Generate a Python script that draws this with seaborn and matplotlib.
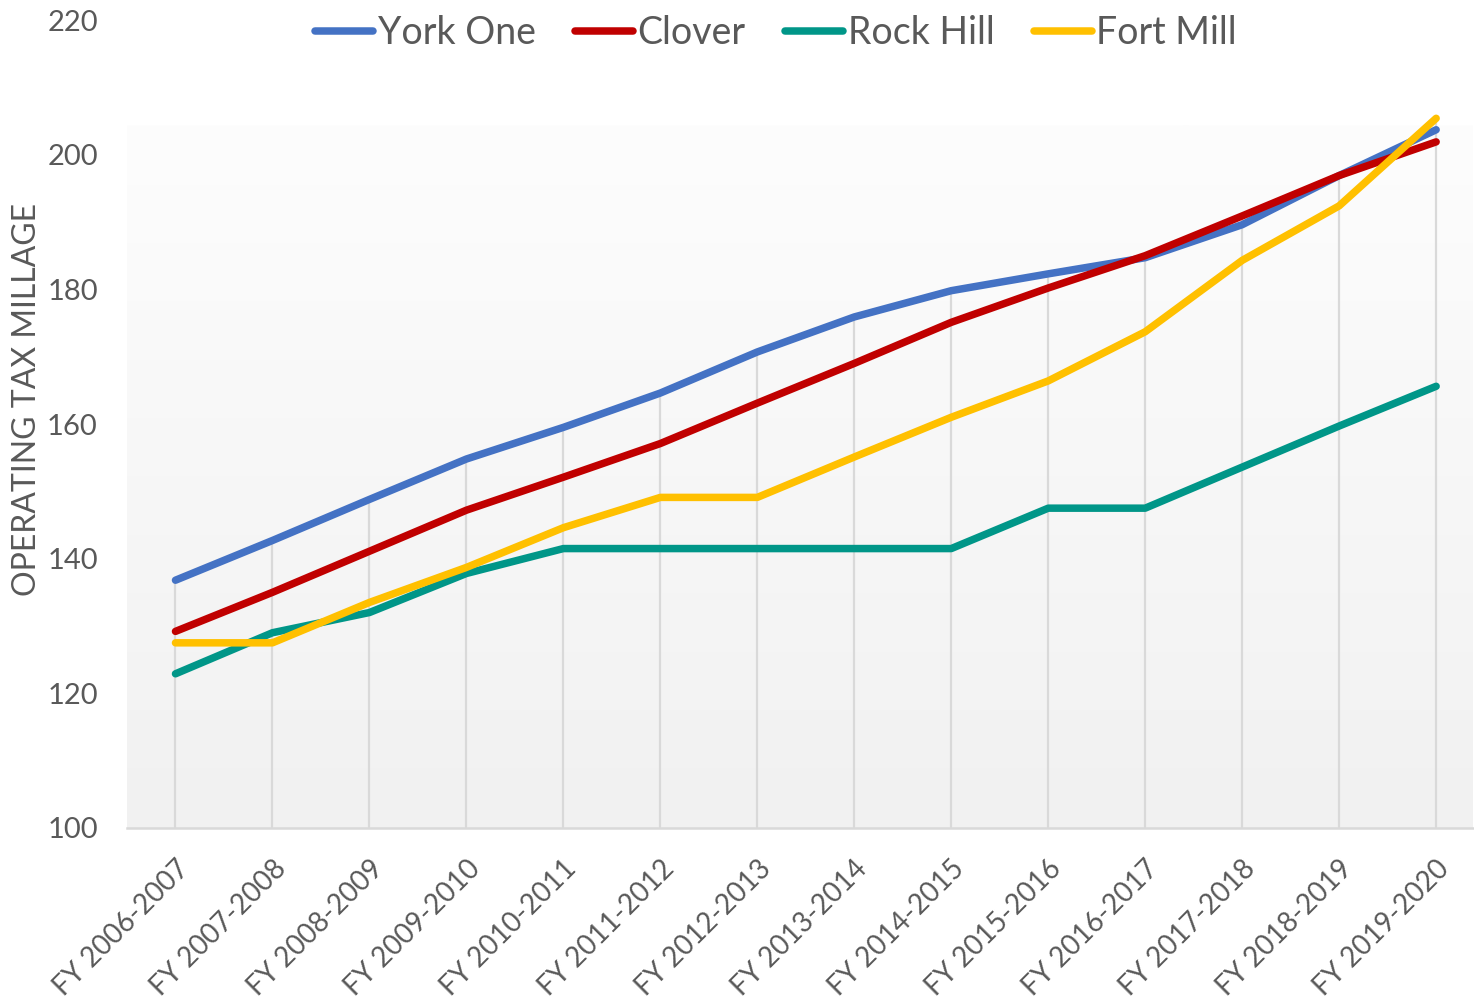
import numpy as np
import pandas as pd
import matplotlib
matplotlib.use("Agg")
import matplotlib.pyplot as plt
import seaborn as sns
from matplotlib.colors import LinearSegmentedColormap

categories = ["FY 2006-2007", "FY 2007-2008", "FY 2008-2009", "FY 2009-2010",
              "FY 2010-2011", "FY 2011-2012", "FY 2012-2013", "FY 2013-2014",
              "FY 2014-2015", "FY 2015-2016", "FY 2016-2017", "FY 2017-2018",
              "FY 2018-2019", "FY 2019-2020"]
york_one = [136.8, 142.7, 148.8, 154.8, 159.5, 164.6, 170.7, 175.9, 179.8, 182.3, 184.7, 189.6, 196.9, 203.7]
clover = [129.2, 135.0, 141.1, 147.2, 152.1, 157.1, 163.1, 169.0, 175.1, 180.2, 185.0, 190.9, 196.9, 201.9]
rock_hill = [122.9, 129.0, 132.0, 137.8, 141.5, 141.5, 141.5, 141.5, 141.5, 147.5, 147.5, 153.6, 159.7, 165.6]
fort_mill = [127.5, 127.5, 133.5, 138.7, 144.6, 149.1, 149.1, 155.1, 161.0, 166.4, 173.7, 184.3, 192.4, 205.4]
series_names = ["York One", "Clover", "Rock Hill", "Fort Mill"]
series_values = [york_one, clover, rock_hill, fort_mill]
colors = ["#4472C4", "#C00000", "#009688", "#FFC000"]
y_ticks = [100, 120, 140, 160, 180, 200, 220]

rows = []
for name, vals in zip(series_names, series_values):
    for c, v in zip(categories, vals):
        rows.append({"Year": c, "Series": name, "Millage": v})
df = pd.DataFrame(rows)

sns.set_theme(style="white")
plt.rcParams["font.family"] = ["Lato", "DejaVu Sans"]

W, H = 1474, 1002
fig = plt.figure(figsize=(W / 100, H / 100), dpi=100)
ax = fig.add_axes([127 / W, 1 - 828 / H, (1473 - 127) / W, (828 - 20) / H])

# gradient plot-area background
grad = np.linspace(0, 1, 256).reshape(-1, 1)
cmap = LinearSegmentedColormap.from_list("g", ["#fdfdfd", "#f1f1f1"])
ax.imshow(grad, extent=[0, 1, 0, (828 - 125) / (828 - 20)], transform=ax.transAxes,
          aspect="auto", cmap=cmap, zorder=0, interpolation="bilinear")

# drop lines from the highest series value down to the axis
xs = np.arange(len(categories))
maxes = np.max(np.array(series_values), axis=0)
ax.vlines(xs, y_ticks[0], maxes, color="#d9d9d9", linewidth=1.6, zorder=1)

sns.lineplot(data=df, x="Year", y="Millage", hue="Series", palette=colors,
             hue_order=series_names, sort=False, linewidth=5.4, ax=ax,
             solid_capstyle="round", solid_joinstyle="round", zorder=3)

ax.set_xlim(-0.5, 13.38)
ax.set_ylim(100, 220)
ax.set_yticks(y_ticks)
ax.set_xticks(xs)
ax.set_xticklabels(categories, rotation=45, ha="right", va="top", rotation_mode="anchor")
ax.tick_params(axis="x", length=0, pad=20, labelsize=20, labelcolor="#595959")
ax.tick_params(axis="y", length=0, pad=21, labelsize=21, labelcolor="#595959")

for s in ["left", "right", "top"]:
    ax.spines[s].set_visible(False)
ax.spines["bottom"].set_color("#d9d9d9")
ax.spines["bottom"].set_linewidth(1.8)

ax.set_xlabel("")
ax.set_ylabel("OPERATING TAX MILLAGE", fontsize=23, color="#595959")
ax.yaxis.set_label_coords(-0.063, 0.53)

handles, labels = ax.get_legend_handles_labels()
ax.get_legend().remove()
for h in handles:
    h.set_linewidth(5.4)
    h.set_solid_capstyle("round")
leg = fig.legend(handles, labels, loc="center", bbox_to_anchor=(776 / W, 1 - 33 / H),
                 ncol=4, frameon=False, fontsize=27, handlelength=1.55,
                 handletextpad=0.12, columnspacing=1.05, labelcolor="#595959",
                 borderaxespad=0)

fig.savefig("out.png", dpi=100, facecolor="white")
